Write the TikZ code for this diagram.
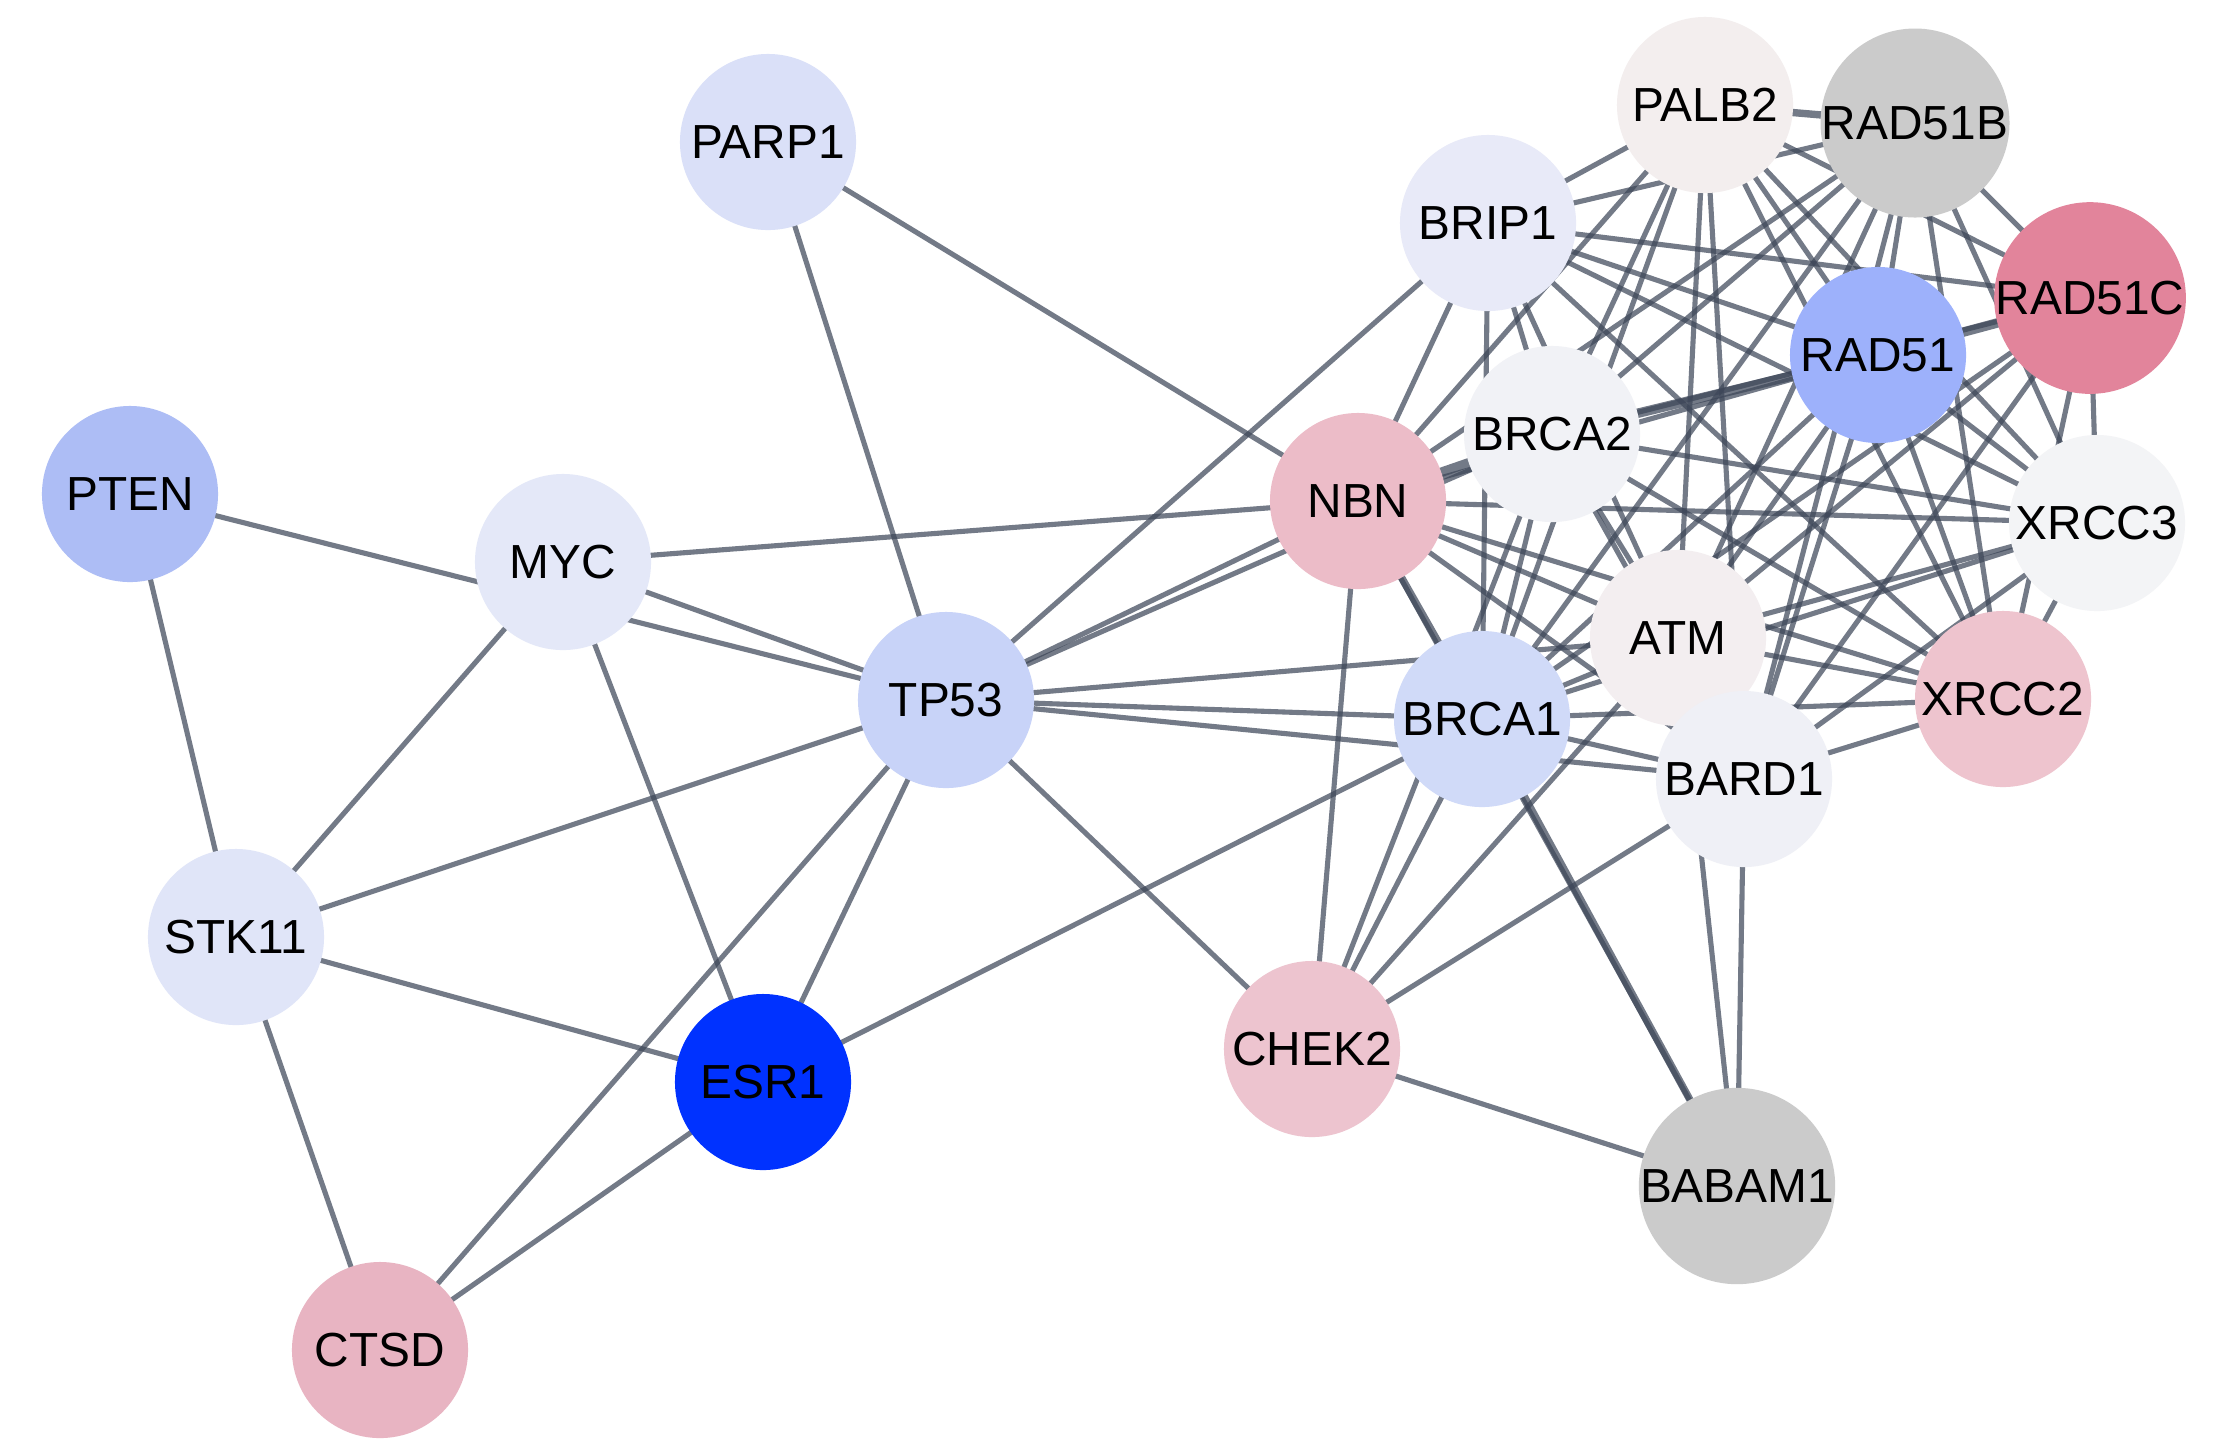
\documentclass[tikz,border=0pt]{standalone}
\usepackage{fontspec}
\setmainfont{Liberation Sans}
\usetikzlibrary{backgrounds}
\definecolor{edgec}{HTML}{3E4759}
\definecolor{cPARP}{HTML}{DAE0F8}
\definecolor{cPTEN}{HTML}{ADBDF5}
\definecolor{cMYC}{HTML}{E4E8F8}
\definecolor{cTP}{HTML}{C8D3F8}
\definecolor{cSTK}{HTML}{E0E5F8}
\definecolor{cESR}{HTML}{0032FF}
\definecolor{cCTSD}{HTML}{E8B4C2}
\definecolor{cNBN}{HTML}{ECBCC8}
\definecolor{cBRIP}{HTML}{E8EAF8}
\definecolor{cPALB}{HTML}{F3EEEE}
\definecolor{cGREY}{HTML}{CBCBCB}
\definecolor{cRADC}{HTML}{E2849B}
\definecolor{cRAD}{HTML}{9DB1FB}
\definecolor{cBRCAB}{HTML}{F1F2F6}
\definecolor{cXRCCC}{HTML}{F3F4F6}
\definecolor{cATM}{HTML}{F3EEF0}
\definecolor{cBRCAA}{HTML}{D0DAF8}
\definecolor{cXRCCB}{HTML}{EEC4CE}
\definecolor{cBARD}{HTML}{EFF0F6}
\definecolor{cCHEK}{HTML}{EDC4CF}
\begin{document}
\begin{tikzpicture}[x=0.01cm,y=-0.01cm,
  gene/.style={circle, minimum size=1.76cm, inner sep=0pt, font=\fontsize{13.6}{16}\selectfont, text=black},
  link/.style={draw=edgec, line width=1.45pt, draw opacity=0.72},
  midlink/.style={link, line width=2.1pt},
  strong/.style={link, line width=2.7pt}]
\useasboundingbox (0,0) rectangle (2222,1450);
\node[gene, fill=cPARP] (PARP1) at (768,142) {PARP1};
\node[gene, fill=cPTEN] (PTEN) at (130,494) {PTEN};
\node[gene, fill=cMYC] (MYC) at (563,562) {MYC};
\node[gene, fill=cTP] (TP53) at (946,700) {TP53};
\node[gene, fill=cSTK] (STK11) at (236,937) {STK11};
\node[gene, fill=cESR] (ESR1) at (763,1082) {ESR1};
\node[gene, fill=cCTSD] (CTSD) at (380,1350) {CTSD};
\node[gene, fill=cNBN] (NBN) at (1358,501) {NBN};
\node[gene, fill=cBRIP] (BRIP1) at (1488,223) {BRIP1};
\node[gene, fill=cPALB] (PALB2) at (1705,105) {PALB2};
\node[gene, fill=cGREY] (RAD51B) at (1915,123) {RAD51B};
\node[gene, fill=cRADC] (RAD51C) at (2090,298) {RAD51C};
\node[gene, fill=cRAD] (RAD51) at (1878,355) {RAD51};
\node[gene, fill=cBRCAB] (BRCA2) at (1552,434) {BRCA2};
\node[gene, fill=cXRCCC] (XRCC3) at (2097,523) {XRCC3};
\node[gene, fill=cATM] (ATM) at (1678,638) {ATM};
\node[gene, fill=cBRCAA] (BRCA1) at (1482,719) {BRCA1};
\node[gene, fill=cXRCCB] (XRCC2) at (2003,699) {XRCC2};
\node[gene, fill=cBARD] (BARD1) at (1744,779) {BARD1};
\node[gene, fill=cCHEK] (CHEK2) at (1312,1049) {CHEK2};
\node[gene, fill=cGREY] (BABAM1) at (1737,1186) {BABAM1};
\begin{scope}[on background layer]
\fill[white] (0,0) rectangle (2222,1450);
\foreach \a/\b in {PARP1/TP53, PARP1/NBN, PTEN/TP53, PTEN/STK11, MYC/NBN, MYC/TP53, MYC/STK11, MYC/ESR1,
  STK11/TP53, STK11/ESR1, STK11/CTSD, TP53/ESR1, TP53/CTSD, ESR1/CTSD, ESR1/BRCA1, TP53/CHEK2, TP53/BRIP1,
  TP53/NBN, TP53/BRCA2, TP53/ATM, TP53/BRCA1, TP53/BARD1,
  PALB2/BRIP1, PALB2/BRCA2, PALB2/BRCA1, PALB2/RAD51, PALB2/RAD51C, PALB2/XRCC3, PALB2/XRCC2, PALB2/ATM, PALB2/BARD1, PALB2/NBN,
  RAD51B/RAD51C, RAD51B/RAD51, RAD51B/XRCC3, RAD51B/XRCC2, RAD51B/BRCA2, RAD51B/BRIP1, RAD51B/NBN, RAD51B/ATM, RAD51B/BRCA1, RAD51B/BARD1,
  RAD51C/XRCC3, RAD51C/XRCC2, RAD51C/BRCA2, RAD51C/BRIP1, RAD51C/ATM, RAD51C/BRCA1, RAD51C/BARD1,
  RAD51/XRCC3, RAD51/XRCC2, RAD51/BRCA1, RAD51/BRIP1, RAD51/ATM, RAD51/NBN, RAD51/BARD1,
  XRCC3/XRCC2, XRCC3/BRCA2, XRCC3/NBN, XRCC3/ATM, XRCC3/BRIP1, XRCC3/BARD1, XRCC3/BRCA1,
  XRCC2/BRCA2, XRCC2/NBN, XRCC2/ATM, XRCC2/BRCA1, XRCC2/BARD1, XRCC2/BRIP1,
  BRCA2/BRCA1, BRCA2/ATM, BRCA2/BARD1, BRCA2/BRIP1, BRCA2/CHEK2,
  BRCA1/BARD1, BRCA1/BRIP1, BRCA1/ATM, BRCA1/CHEK2,
  ATM/NBN, ATM/CHEK2, ATM/BARD1, ATM/BRIP1, ATM/BABAM1,
  BARD1/CHEK2, BARD1/BABAM1, BARD1/NBN, BRIP1/NBN, NBN/CHEK2, CHEK2/BABAM1, NBN/BABAM1}
  \draw[link] (\a.center) -- (\b.center);
\foreach \a/\b in {PALB2/RAD51B, BRCA1/NBN, BRCA1/BABAM1}
  \draw[midlink] (\a.center) -- (\b.center);
\foreach \a/\b in {RAD51/BRCA2, RAD51C/RAD51, BRCA2/NBN}
  \draw[strong] (\a.center) -- (\b.center);
\end{scope}
\end{tikzpicture}
\end{document}
